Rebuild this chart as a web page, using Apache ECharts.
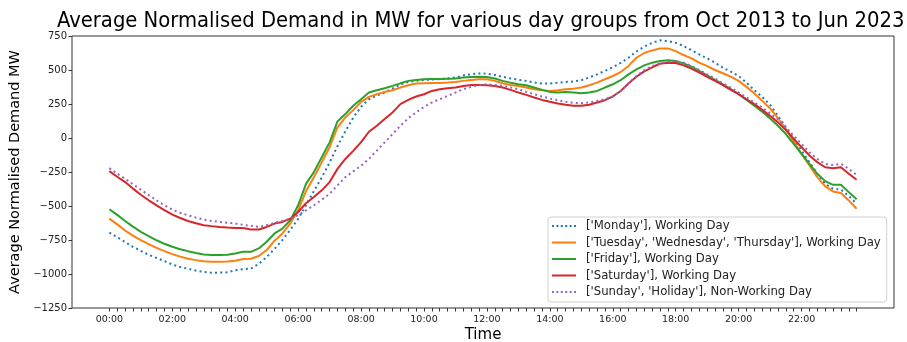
<!DOCTYPE html>
<html>
<head>
<meta charset="utf-8">
<script src="https://cdn.jsdelivr.net/npm/echarts@6/dist/echarts.min.js"></script>
<style>
  html, body { margin: 0; padding: 0; background: #fff; }
  #chart { width: 907px; height: 342px; }
</style>
</head>
<body>
<div id="chart"></div>
<script>
// Quarter-hour time slots, 00:00 .. 23:45
const times = [];
for (let h = 0; h < 24; h++) {
  for (let m = 0; m < 60; m += 15) {
    times.push(String(h).padStart(2, '0') + ':' + String(m).padStart(2, '0'));
  }
}

const seriesNames = [
  "['Monday'], Working Day",
  "['Tuesday', 'Wednesday', 'Thursday'], Working Day",
  "['Friday'], Working Day",
  "['Saturday'], Working Day",
  "['Sunday', 'Holiday'], Non-Working Day"
];

const yTicks = { min: -1250, max: 750, step: 250 };

// Average normalised demand (MW) per quarter hour
const monday = [
  -695, -730, -765, -800, -830, -858, -882, -905, -930, -948, -962, -975,
  -985, -990, -990, -988, -972, -965, -960, -925, -875, -815, -750, -675,
  -595, -495, -390, -290, -180, -60, 50, 150, 230, 285, 312, 335,
  365, 392, 412, 420, 427, 430, 432, 437, 445, 460, 468, 475,
  473, 463, 450, 438, 428, 420, 408, 400, 400, 407, 412, 415,
  425, 445, 468, 493, 520, 552, 590, 636, 672, 700, 718, 712,
  700, 676, 646, 615, 585, 554, 517, 488, 456, 407, 351, 302,
  244, 163, 78, -2, -93, -178, -263, -337, -373, -380, -427, -483
];
const tueWedThu = [
  -593, -635, -680, -718, -751, -780, -808, -832, -854, -872, -888, -898,
  -907, -910, -910, -908, -902, -890, -888, -868, -824, -755, -702, -629,
  -532, -390, -288, -178, -68, 78, 151, 205, 265, 302, 322, 339,
  351, 371, 388, 400, 402, 404, 405, 408, 412, 420, 427, 432,
  432, 420, 402, 390, 383, 371, 359, 351, 346, 351, 359, 363,
  371, 388, 407, 432, 456, 485, 530, 590, 625, 644, 659, 659,
  639, 610, 585, 554, 529, 500, 476, 451, 420, 376, 327, 273,
  217, 146, 66, -27, -117, -202, -288, -356, -393, -405, -459, -520
];
const friday = [
  -524, -565, -610, -652, -690, -722, -752, -778, -800, -818, -832, -845,
  -856, -860, -861, -858, -849, -837, -837, -812, -763, -702, -666, -605,
  -495, -337, -251, -141, -32, 122, 176, 237, 285, 334, 351, 366,
  383, 402, 420, 427, 432, 433, 434, 436, 437, 444, 449, 451,
  449, 437, 420, 407, 395, 388, 371, 354, 339, 334, 339, 334,
  329, 334, 346, 371, 395, 425, 468, 505, 534, 554, 566, 571,
  566, 549, 524, 493, 461, 427, 395, 359, 322, 280, 237, 193,
  144, 90, 29, -44, -117, -190, -263, -317, -344, -344, -398, -451
];
const saturday = [
  -244, -285, -324, -372, -417, -458, -495, -530, -563, -588, -610, -627,
  -641, -648, -654, -658, -661, -662, -673, -673, -654, -629, -617, -593,
  -544, -480, -434, -385, -324, -227, -154, -95, -30, 46, 90, 139,
  188, 249, 280, 305, 322, 346, 359, 366, 371, 383, 390, 390,
  388, 383, 371, 354, 334, 317, 298, 280, 266, 254, 244, 237,
  237, 244, 261, 278, 305, 346, 400, 450, 490, 520, 546, 554,
  551, 534, 510, 480, 449, 420, 388, 354, 322, 285, 249, 207,
  163, 115, 59, -7, -68, -129, -178, -215, -222, -215, -263, -307
];
const sundayHoliday = [
  -222, -262, -300, -340, -380, -420, -459, -495, -527, -550, -568, -585,
  -600, -610, -617, -623, -629, -638, -646, -654, -641, -624, -610, -593,
  -568, -532, -495, -454, -410, -349, -288, -245, -205, -154, -93, -32,
  29, 90, 146, 188, 229, 261, 285, 310, 334, 359, 376, 388,
  395, 390, 383, 371, 359, 339, 322, 305, 290, 278, 266, 259,
  256, 261, 273, 285, 305, 346, 402, 456, 498, 529, 549, 561,
  566, 554, 529, 500, 468, 437, 402, 371, 334, 298, 261, 224,
  180, 139, 78, 17, -44, -105, -154, -190, -198, -190, -227, -271
];

const seriesValues = [monday, tueWedThu, friday, saturday, sundayHoliday];
const colors = ['#1f77b4', '#ff7f0e', '#2ca02c', '#d62728', '#9467bd'];
const dotted = [true, false, false, false, true];

const FONT = "'DejaVu Sans', sans-serif";
const TITLE_FONT = "'DejaVu Sans Condensed', 'DejaVu Sans', sans-serif";
const TEXT = '#222';

// Frame of the axes box and the inner data area (5% side margins)
const frame = { left: 72, right: 13, top: 36, bottom: 34 };
const frameWidth = 907 - frame.left - frame.right;
const sideMargin = frameWidth * 0.05 / 1.1;

// Title centred over the axes box
const titleText = 'Average Normalised Demand in MW for various day groups from Oct 2013 to Jun 2023';
const titleSize = 21.8;
const measureCtx = document.createElement('canvas').getContext('2d');
measureCtx.font = titleSize + 'px ' + TITLE_FONT;
const titleWidth = measureCtx.measureText(titleText).width;
const frameCenter = frame.left + frameWidth / 2;

// Legend keys: a short dotted bar or a solid bar
const DOT_ICON = 'path://M0 0h2v2h-2z M4.4 0h2v2h-2z M8.8 0h2v2h-2z M13.2 0h2v2h-2z M17.6 0h2v2h-2z M22 0h2v2h-2z';
const LINE_ICON = 'path://M0 0h24v2h-24z';

const minusFmt = v => String(v).replace('-', '\u2212');

const chart = echarts.init(document.getElementById('chart'), null, { renderer: 'canvas' });

chart.setOption({
  animation: false,
  backgroundColor: '#fff',
  textStyle: { fontFamily: FONT },
  title: {
    text: titleText,
    left: Math.round(frameCenter - 2 - titleWidth / 2),
    top: 10,
    padding: 0,
    textStyle: { fontFamily: TITLE_FONT, fontSize: titleSize, fontWeight: 'normal', color: '#000' }
  },
  grid: [
    { left: frame.left, right: frame.right, top: frame.top, bottom: frame.bottom,
      outerBoundsMode: 'none', containLabel: false,
      show: true, borderColor: '#333', borderWidth: 1, backgroundColor: 'transparent' },
    { left: frame.left + sideMargin, right: frame.right + sideMargin,
      top: frame.top, bottom: frame.bottom,
      outerBoundsMode: 'none', containLabel: false }
  ],
  xAxis: [
    {
      gridIndex: 0, type: 'value', min: 0, max: 1,
      axisLine: { show: false, onZero: false }, axisTick: { show: false },
      axisLabel: { show: false }, splitLine: { show: false },
      name: 'Time', nameLocation: 'middle', nameGap: 20,
      nameTextStyle: { fontFamily: FONT, fontSize: 15, color: '#000' }
    },
    {
      gridIndex: 1, type: 'category', data: times, boundaryGap: false,
      axisLine: { show: false, onZero: false },
      axisTick: { show: true, interval: 0, length: 3.5, lineStyle: { color: '#333', width: 1 } },
      axisLabel: { interval: 7, fontSize: 9.5, color: TEXT, margin: 7, fontFamily: FONT },
      splitLine: { show: false }
    }
  ],
  yAxis: [
    {
      gridIndex: 0, type: 'value', min: yTicks.min, max: yTicks.max, interval: yTicks.step,
      axisLine: { show: false, onZero: false },
      axisTick: { show: true, length: 3.5, lineStyle: { color: '#333', width: 1 } },
      axisLabel: { fontSize: 10, color: TEXT, margin: 5, fontFamily: FONT, formatter: minusFmt },
      splitLine: { show: false },
      name: 'Average Normalised Demand MW', nameLocation: 'middle', nameGap: 45,
      nameTextStyle: { fontFamily: FONT, fontSize: 14.5, color: '#000' }
    },
    {
      gridIndex: 1, type: 'value', min: yTicks.min, max: yTicks.max,
      show: false
    }
  ],
  legend: {
    orient: 'vertical',
    left: 548, top: 217,
    padding: [3, 6, 4, 4],
    itemWidth: 24, itemHeight: 2, itemGap: 4.5,
    borderColor: '#d0d0d0', borderWidth: 1, borderRadius: 3,
    backgroundColor: 'rgba(255,255,255,0.85)',
    textStyle: { fontFamily: FONT, fontSize: 11.7, color: TEXT, lineHeight: 12, padding: [0, 0, 0, 5] },
    data: seriesNames.map((name, i) => ({ name, icon: dotted[i] ? DOT_ICON : LINE_ICON }))
  },
  series: seriesNames.map((name, i) => ({
    name,
    type: 'line',
    xAxisIndex: 1, yAxisIndex: 1,
    data: seriesValues[i],
    symbol: 'none',
    smooth: false,
    color: colors[i],
    itemStyle: { color: colors[i] },
    lineStyle: dotted[i]
      ? { color: colors[i], width: 2, type: [2, 3.2], cap: 'butt' }
      : { color: colors[i], width: 2 },
    z: 2
  }))
});
</script>
</body>
</html>
